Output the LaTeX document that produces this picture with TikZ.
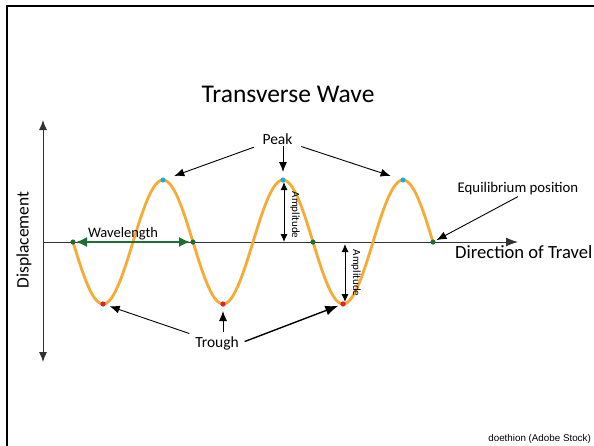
\documentclass[tikz,border=0pt]{standalone}
\usepackage{fontspec}
\setmainfont{Carlito}
\newfontfamily\creditfont{Liberation Sans}
\usetikzlibrary{arrows.meta}

\definecolor{waveorange}{RGB}{247,170,52}
\definecolor{nodegreen}{RGB}{28,110,52}
\definecolor{peakblue}{RGB}{30,170,230}
\definecolor{troughred}{RGB}{232,30,40}
\definecolor{axisgray}{RGB}{50,50,50}

\tikzset{
  label text/.style={font=\fontsize{15.5}{18}\selectfont, inner sep=2pt, anchor=base},
  pointer/.style={-{Latex[length=10pt, width=8pt]}, line width=0.9pt},
  amp arrow/.style={{Latex[length=8pt, width=7pt]}-{Latex[length=8pt, width=7pt]}, line width=0.9pt},
  amp text/.style={rotate=-90, font=\fontsize{11}{13}\selectfont, inner sep=1pt},
  dot/.style={fill=#1, draw=none}
}

\begin{document}
\begin{tikzpicture}[x=1pt, y=-1pt]
    \useasboundingbox (0,0) rectangle (594,445);

    % 1. Khung (chỉ cạnh trái và cạnh trên)
    \draw[line width=2.5pt] (7,446) -- (7,6) -- (595,6);

    % 2. Các điểm đặc biệt của sóng
    \coordinate (O) at (43,242);
    \foreach \i in {1,...,4}
        \coordinate (e\i) at ({73+120*(\i-1)},242);
    \foreach \i in {1,...,3} {
        \coordinate (p\i) at ({163+120*(\i-1)},180);
        \coordinate (t\i) at ({103+120*(\i-1)},304);
    }

    % 3. Trục toạ độ
    \draw[axisgray, line width=1pt, -{Latex[length=12pt, width=9pt]}] (O) -- (518,242);
    \draw[axisgray, line width=1pt, {Latex[length=10pt, width=8pt]}-{Latex[length=10pt, width=8pt]}] (43,120) -- (43,362);

    % 4. Đồ thị sóng ngang
    \draw[waveorange, line width=2.8pt, samples=200, domain=73:433]
        plot (\x, {242 + 62*sin(3*(\x-73))});

    % 5. Bước sóng
    \draw[nodegreen, line width=1.6pt, shorten <=3pt, shorten >=3pt,
        {Latex[length=11pt, width=10pt]}-{Latex[length=11pt, width=10pt]}] (e1) -- (e2);
    \node[label text, font=\fontsize{14.5}{17}\selectfont] (wavelabel) at (123,237) {Wavelength};

    % 6. Các chấm
    \foreach \i in {1,...,4} \fill[dot=nodegreen] (e\i) circle (2.6pt);
    \foreach \i in {1,...,3} {
        \fill[dot=peakblue] (p\i) circle (2.6pt);
        \fill[dot=troughred] (t\i) circle (2.6pt);
    }

    % 7. Biên độ
    \coordinate (a1) at (284,242);
    \coordinate (a2) at (345,242);
    \draw[amp arrow, shorten <=2pt] (p2 -| a1) -- (a1);
    \draw[amp arrow, shorten <=2pt, shorten >=2pt] (a2) -- (t3 -| a2);
    \node[amp text] (amp1) at (295,215) {Amplitude};
    \node[amp text] (amp2) at (356,273) {Amplitude};

    % 8. Nhãn và mũi tên chỉ
    \node[anchor=base, font=\fontsize{25.5}{30}\selectfont] (title) at (288,102) {Transverse Wave};

    \node[label text] (peak) at (277.5,144) {Peak};
    \draw[pointer, shorten <=7pt, shorten >=12pt] (peak) -- (p1);
    \draw[pointer, shorten >=8pt] (peak.south -| p2) -- (p2);
    \draw[pointer, shorten <=7pt, shorten >=13pt] (peak) -- (p3);

    \node[label text] (trough) at (217,347) {Trough};
    \draw[pointer, shorten <=4pt, shorten >=7pt] (trough) -- (t1);
    \draw[pointer, shorten <=2pt, shorten >=7pt] (trough.north -| t2) -- (t2);
    \draw[line width=1.4pt, -{Latex[length=13pt, width=10pt]}, shorten <=4pt, shorten >=5pt]
        (trough.east) -- (t3);

    \node[label text, font=\fontsize{14.8}{17}\selectfont] (eqlabel) at (518,192) {Equilibrium position};
    \draw[pointer, shorten >=4pt] (eqlabel.south) -- (e4);

    \node[anchor=base west, font=\fontsize{18.6}{22}\selectfont, inner sep=0pt] (travel) at (455,258) {Direction of Travel};
    \node[rotate=90, font=\fontsize{17.5}{20}\selectfont] (disp) at (24,240) {Displacement};

    \node[anchor=base east, font=\creditfont\fontsize{9.8}{12}\selectfont, inner sep=0pt] (credit) at (591,441) {doethion (Adobe Stock)};
\end{tikzpicture}
\end{document}
